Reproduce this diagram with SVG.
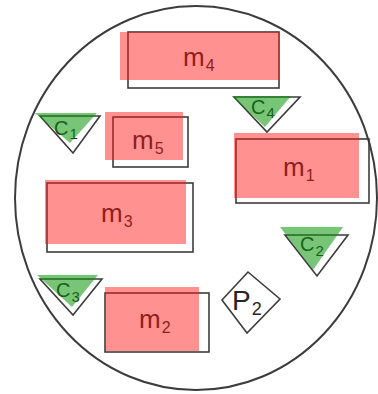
<svg xmlns="http://www.w3.org/2000/svg" width="378" height="394" viewBox="0 0 378 394">
<style>
.ol{fill:none;stroke:#3c3c3c;stroke-width:1.6}
.red{fill:#ff1a1a;fill-opacity:0.48}
.grn{fill:#0a960a;fill-opacity:0.55}
text{font-family:"Liberation Sans",Arial,sans-serif;fill:#262626}
.m{font-size:26px}
.ms{font-size:16px}
.c{font-size:20px}
.cs{font-size:15px}
</style>
<rect width="378" height="394" fill="#fff"/>
<g id="boundary">
<ellipse cx="196" cy="198" rx="181" ry="192" fill="none" stroke="#3c3c3c" stroke-width="2"/>
</g>
<g id="connectors"></g>
<g id="m4">
<rect class="ol" x="128" y="32" width="151" height="56"/>
<text class="m" x="183" y="66">m<tspan class="ms" dy="5" dx="1">4</tspan></text>
<rect class="red" x="120" y="32" width="159" height="48"/>
</g>
<g id="m5">
<rect class="ol" x="113" y="117" width="75" height="50"/>
<text class="m" x="132" y="149">m<tspan class="ms" dy="5" dx="1">5</tspan></text>
<rect class="red" x="105" y="112" width="78" height="48"/>
</g>
<g id="m1">
<rect class="ol" x="236" y="139" width="133" height="64"/>
<text class="m" x="283" y="176">m<tspan class="ms" dy="5" dx="1">1</tspan></text>
<rect class="red" x="234" y="133" width="125" height="65"/>
</g>
<g id="m3">
<rect class="ol" x="47" y="183" width="146" height="69"/>
<text class="m" x="101" y="222">m<tspan class="ms" dy="5" dx="1">3</tspan></text>
<rect class="red" x="45" y="180" width="141" height="64"/>
</g>
<g id="m2">
<rect class="ol" x="105" y="293" width="104" height="59"/>
<text class="m" x="139" y="328">m<tspan class="ms" dy="5" dx="1">2</tspan></text>
<rect class="red" x="105" y="287" width="94" height="64"/>
</g>
<g id="C4">
<polygon class="ol" points="234,97 300,97 267,132"/>
<text class="c" x="251" y="114">C<tspan class="cs" dy="4" dx="1">4</tspan></text>
<polygon class="grn" points="232,96 291,96 265,127"/>
</g>
<g id="C1">
<polygon class="ol" points="40,116 100,116 73,153"/>
<text class="c" x="54" y="135">C<tspan class="cs" dy="4" dx="1">1</tspan></text>
<polygon class="grn" points="35,113 97,113 70,143"/>
</g>
<g id="C2">
<polygon class="ol" points="285,235 348,235 317,276"/>
<text class="c" x="300" y="251">C<tspan class="cs" dy="5" dx="1">2</tspan></text>
<polygon class="grn" points="280,227 343,227 313,270"/>
</g>
<g id="C3">
<polygon class="ol" points="40,279 102,279 73,315"/>
<text class="c" x="56" y="297">C<tspan class="cs" dy="5" dx="1">3</tspan></text>
<polygon class="grn" points="37,275 98,275 72,307"/>
</g>
<g id="P2">
<polygon class="ol" points="248,272 280,299 247,333 222,300"/>
<text x="232" y="310" font-size="28">P<tspan font-size="18" dy="5" dx="1">2</tspan></text>
</g>
</svg>
